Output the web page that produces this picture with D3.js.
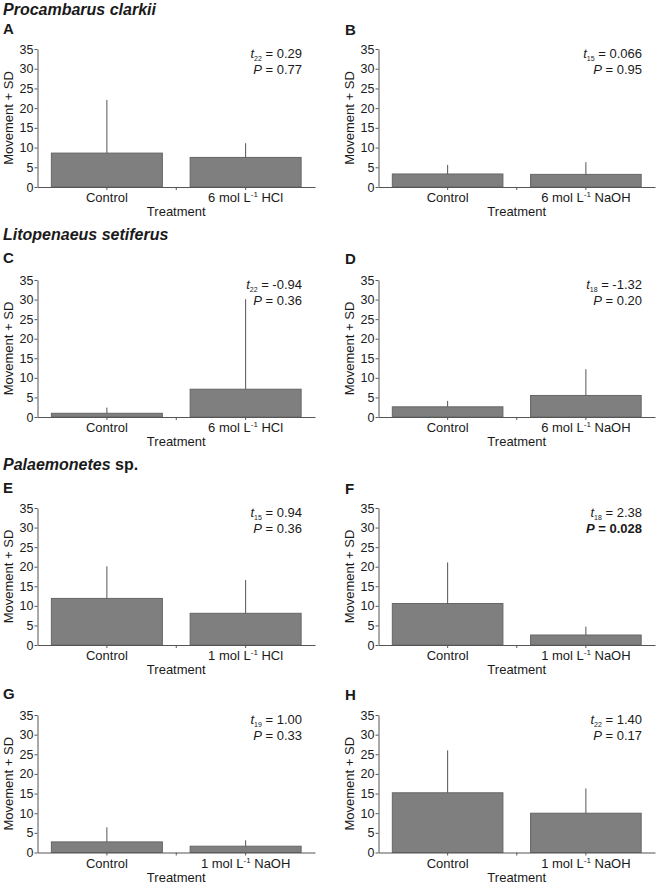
<!DOCTYPE html>
<html lang="en">
<head>
<meta charset="utf-8">
<style>
    body { margin: 0; background: #fff; }
    text { font-family: "Liberation Sans", Arial, sans-serif; fill: #1a1a1a; }
    .bar { fill: #7f7f7f; stroke: #666; stroke-width: 1; }
    .err { stroke: #555; stroke-width: 1; }
    .axis path, .axis line { stroke: #555; }
</style>
<script src="https://d3js.org/d3.v7.min.js"></script>
</head>
<body>
<svg width="661" height="887"></svg>
<script>
    // panel data
    var letters = ["A", "B", "C", "D", "E", "F", "G", "H"];
    var categories = [
        ["Control", "6 mol L^-1 HCl"], ["Control", "6 mol L^-1 NaOH"],
        ["Control", "6 mol L^-1 HCl"], ["Control", "6 mol L^-1 NaOH"],
        ["Control", "1 mol L^-1 HCl"], ["Control", "1 mol L^-1 NaOH"],
        ["Control", "1 mol L^-1 NaOH"], ["Control", "1 mol L^-1 NaOH"]
    ];
    var means = [[8.6, 7.5], [3.3, 3.2], [0.95, 7.1], [2.6, 5.5],
                 [11.9, 8.1], [10.6, 2.55], [2.7, 1.6], [15.2, 10.0]];
    var sds = [[13.5, 3.6], [2.3, 3.1], [1.45, 23.0], [1.5, 6.7],
               [8.2, 8.5], [10.5, 2.15], [3.7, 1.5], [10.8, 6.3]];
    var dfs = ["22", "15", "22", "18", "15", "18", "19", "22"];
    var tValues = ["0.29", "0.066", "-0.94", "-1.32", "0.94", "2.38", "1.00", "1.40"];
    var pValues = ["0.77", "0.95", "0.36", "0.20", "0.36", "0.028", "0.33", "0.17"];
    var significant = [false, false, false, false, false, true, false, false];
    var yTicks = [0, 5, 10, 15, 20, 25, 30, 35];

    var svg = d3.select("svg");

    // layout
    var cols = [[37.5, 315], [378.5, 655]];
    var rows = [[49, 187], [280, 417], [508, 645], [715, 852.5]];
    var letterY = [34, 263, 493, 699];

    // species headings
    svg.append("text").attr("x", 3).attr("y", 15)
        .style("font-size", "16px").style("font-weight", "bold").style("font-style", "italic")
        .text("Procambarus clarkii");
    svg.append("text").attr("x", 3).attr("y", 240)
        .style("font-size", "16px").style("font-weight", "bold").style("font-style", "italic")
        .text("Litopenaeus setiferus");
    var h3 = svg.append("text").attr("x", 3).attr("y", 470)
        .style("font-size", "16px").style("font-weight", "bold");
    h3.append("tspan").style("font-style", "italic").text("Palaemonetes");
    h3.append("tspan").text(" sp.");

    function labelParts(sel, label) {
        var parts = label.split("^-1");
        sel.text(null);
        sel.append("tspan").text(parts[0]);
        if (parts.length > 1) {
            sel.append("tspan").attr("dy", -5).style("font-size", "8px").text("-1");
            sel.append("tspan").attr("dy", 5).text(parts[1]);
        }
    }

    letters.forEach(function(letter, i) {
        var col = cols[i % 2], row = rows[Math.floor(i / 2)];
        var x0 = col[0], x1 = col[1], top = row[0], bottom = row[1];

        var x = d3.scaleBand().domain(categories[i]).range([x0, x1])
            .paddingInner(0.2).paddingOuter(0.1);
        var y = d3.scaleLinear().domain([0, 35]).range([bottom, top]);

        var g = svg.append("g");

        // panel letter
        g.append("text").attr("x", i % 2 ? 345 : 3).attr("y", letterY[Math.floor(i / 2)] + (i % 2 ? 1 : 0))
            .style("font-size", "15px").style("font-weight", "bold").text(letter);

        // bars
        var rowsData = categories[i].map(function(c, j) { return {cat: c, m: means[i][j], sd: sds[i][j]}; });
        g.selectAll(".bar").data(rowsData).enter().append("rect")
            .attr("class", "bar")
            .attr("x", function(d) { return x(d.cat); })
            .attr("y", function(d) { return y(d.m); })
            .attr("width", x.bandwidth())
            .attr("height", function(d) { return y(0) - y(d.m); });
        g.selectAll(".err").data(rowsData).enter().append("line")
            .attr("class", "err")
            .attr("x1", function(d) { return x(d.cat) + x.bandwidth() / 2; })
            .attr("x2", function(d) { return x(d.cat) + x.bandwidth() / 2; })
            .attr("y1", function(d) { return y(d.m); })
            .attr("y2", function(d) { return y(d.m + d.sd); });

        // y axis
        var ya = g.append("g").attr("class", "axis")
            .attr("transform", "translate(" + x0 + ",0)")
            .call(d3.axisLeft(y).tickValues(yTicks).tickSize(3).tickSizeOuter(0).tickPadding(1));
        ya.selectAll("text").style("font-size", "12.5px").attr("fill", "#1a1a1a");

        // x axis
        var xa = g.append("g").attr("class", "axis")
            .attr("transform", "translate(0," + bottom + ")")
            .call(d3.axisBottom(x).tickSize(3).tickSizeOuter(0).tickPadding(3));
        xa.selectAll("text").style("font-size", "13px").attr("fill", "#1a1a1a")
            .each(function(d) { labelParts(d3.select(this), d); });
        xa.append("line").attr("x1", x0 + x.step()).attr("x2", x0 + x.step())
            .attr("y1", 0).attr("y2", 3);

        // axis titles
        g.append("text").attr("x", (x0 + x1) / 2).attr("y", bottom + 29)
            .attr("text-anchor", "middle").style("font-size", "13px").text("Treatment");
        g.append("text")
            .attr("transform", "translate(" + (x0 - 24.5) + "," + (top + bottom) / 2 + ") rotate(-90)")
            .attr("text-anchor", "middle").style("font-size", "13px").text("Movement + SD");

        // t-test results
        var sx = x1 - 13;
        var t1 = g.append("text").attr("x", sx).attr("y", top + 9)
            .attr("text-anchor", "end").style("font-size", "13px");
        t1.append("tspan").style("font-style", "italic").text("t");
        t1.append("tspan").attr("dy", 3).style("font-size", "7px").text(dfs[i]);
        t1.append("tspan").attr("dy", -3).text(" = " + tValues[i]);
        var t2 = g.append("text").attr("x", sx).attr("y", top + 25)
            .attr("text-anchor", "end").style("font-size", "13px")
            .style("font-weight", significant[i] ? "bold" : "normal");
        t2.append("tspan").style("font-style", "italic").text("P");
        t2.append("tspan").text(" = " + pValues[i]);
    });
</script>
</body>
</html>
